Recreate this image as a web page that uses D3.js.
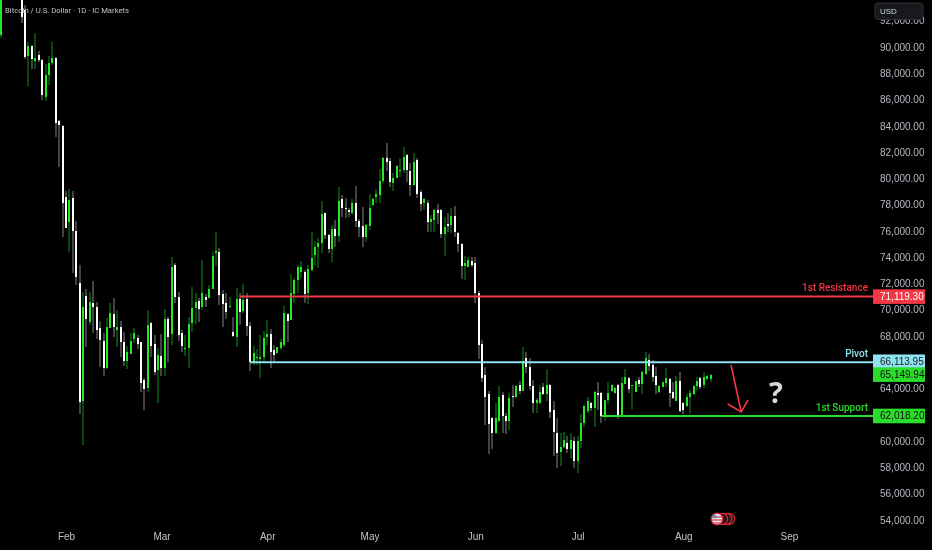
<!DOCTYPE html>
<html><head><meta charset="utf-8">
<style>html,body{margin:0;padding:0;background:#000;overflow:hidden}svg{display:block;filter:blur(0.3px)}text{font-family:"Liberation Sans",sans-serif}</style>
<script src="https://cdn.jsdelivr.net/npm/d3@7/dist/d3.min.js"></script></head><body>
<script>
const firstDay = "2026-01-13";
const opens = [90910,94300,95400,95800,96300,96900,94800,92817,89315,90076,88934,89391,89010,86193,87868,88782,89162,84366,83985,
78580,76677,78504,75992,72033,63050,71044,69064,70511,70207,68607,67617,65562,68607,69673,68455,68684,67541,66095,66628,67770,67846,67541,64649,64040,68988,67389,65410,66476,65562,69293,
68151,73404,70967,68227,67008,67085,68988,70130,70663,70207,70967,70891,71577,74317,74393,71196,70511,70207,68303,67922,70815,69901,70815,68760,66019,66324,66248,66400,67922,68151,
66933,66704,67085,67313,69673,69216,71196,72262,72871,72871,71272,73023,74165,74774,75078,77362,75687,74622,76144,75611,78428,77743,77591,77362,78123,76753,76373,75535,76373,77971,
78580,78733,79799,81550,81321,79646,80027,80560,80636,81778,80560,79494,81397,78961,78123,78123,76677,76829,77591,77591,75763,76525,76449,77134,75840,75002,73327,73251,73708,73556,
71272,67389,65029,63582,61756,60614,61527,63506,61908,61527,63430,63354,64268,63811,66324,65638,64192,62898,62898,64116,63583,64268,62365,60614,59167,59548,59852,59396,60005,58482,
60005,61375,62289,62898,62517,63659,63659,61908,63126,63811,63659,64268,61832,64344,64801,64192,63735,64649,64344,65106,66171,65791,64953,63735,64116,64420,64725,63735,63050,64573,
62898,62669,63355,63583,64192,64801,64268,64725,64725];
const highs = [95500,95600,95900,96400,97000,97300,95000,93197,90381,90152,91066,89695,89087,88706,89315,90381,89239,84442,84062,
79037,79189,79037,76753,73404,71348,71577,71348,72186,70587,69140,68227,69369,70511,70892,69978,69140,68303,67237,68227,68607,68075,67541,64802,69978,69064,68075,67085,68151,70054,69445,
74013,73556,71348,68455,68075,69445,71729,71272,70892,73784,71196,71881,74393,75916,74698,71500,71272,70967,69445,71653,71272,71957,71272,69064,67237,67009,68075,68379,69216,68531,
67313,67161,67770,70283,69749,72719,72414,73404,73708,73023,73404,75916,75231,75459,78276,77362,75763,76449,76829,79342,78733,78504,77743,78428,79418,76905,77819,76525,78809,78504,
79189,80712,81626,82691,81550,80408,81017,81550,82387,81854,81169,81930,81550,79113,78504,78352,77210,77667,78047,77667,77058,77362,77743,77895,75916,75078,74089,74013,74013,74013,
71424,67694,65638,63811,61832,62898,64192,63735,62136,63659,64268,64268,64573,67161,66781,66324,64649,63278,64268,64420,65486,64344,63050,61755,60614,60690,60386,60614,60309,60386,
62060,62746,63355,62974,63811,64497,63735,63126,64497,64344,64116,64344,64877,65486,64877,64268,64573,64877,65334,66781,66628,66171,65638,64268,64497,65562,64801,64497,64953,65258,
62974,63583,63887,64268,64877,64877,65258,65029,65106];
const lows = [90700,94200,95300,95700,96200,96800,91830,89087,87031,88325,88325,88858,85965,85889,87107,88630,83148,80864,75535,
76220,74393,72795,71881,62060,59700,67161,68836,68227,67770,65640,64949,65486,68607,67922,67161,66400,65714,65486,66628,67465,67008,63735,62365,63735,66400,65029,62898,64949,64949,66019,
67313,70511,67617,66781,66476,65562,68303,68912,69064,69978,70207,70891,71577,73327,70359,68684,69293,70130,67922,67161,68836,69749,67999,65334,65791,65791,64801,66019,67313,65562,
66095,66628,66933,67161,67541,69216,70511,71272,72414,70511,70435,72947,73404,73175,74317,75383,74317,73632,74774,75155,77058,76982,77058,77210,76297,75535,74774,75155,76068,77895,
78123,78123,79646,80560,79342,79037,80027,80103,80408,79722,78657,79418,78504,77515,77591,75916,75916,75916,76525,75459,74089,75916,75840,75535,74393,72338,72262,73251,73251,70511,
66247,64497,61223,59015,59396,60538,61451,60614,60538,60842,62593,63278,63583,63811,65182,63887,62136,62136,62822,63506,63050,61755,58863,57949,58101,59472,59091,58711,57949,57568,
59472,61071,62136,62289,61071,62365,61375,61527,62822,63735,63583,61679,61832,64344,63659,62365,63735,64116,63583,65029,65334,64497,63583,63659,64116,64116,62593,63202,63050,62212,
62060,62593,62060,63506,63887,63963,64040,64649,64497];
const closes = [94200,95400,95800,96300,96900,94800,92280,89239,90076,89087,89162,89010,86346,87868,88782,89162,84214,84062,78123,
76220,78352,75992,72490,62974,70207,69293,70587,70207,68455,67694,65562,68684,69749,68684,68684,67541,66095,66781,67617,68227,67389,64420,63963,68836,67237,65258,66552,65562,69293,67922,
73251,70967,68075,67237,67085,68912,70130,70587,70054,71272,70739,71577,74089,74470,71120,70435,69825,70283,67998,70815,69825,70739,68760,66019,66704,66400,66400,67846,68151,66781,
66552,67161,67541,69749,69140,71272,72262,73251,73251,71196,73099,73936,74774,75078,77286,75687,74622,76144,75611,78276,77743,77667,77438,78123,76753,76297,75535,76449,77743,78428,
78809,79799,81550,81245,79722,80027,80940,80636,81626,80636,79494,81245,78809,78047,78428,76677,76905,77591,77362,75763,76297,76373,77134,75916,75002,73327,73556,73784,73404,71272,
67313,64801,63355,61299,60614,61756,63355,61908,61527,63278,63354,64192,63811,66095,65638,64192,62898,63126,63735,63583,64268,62212,60690,59091,59548,60081,59396,60081,58482,60005,
61375,62669,63050,62517,63735,63507,61908,63126,63659,64268,64040,61908,64420,64877,63963,64268,64573,64344,65258,66324,65715,64877,64268,64192,64497,64801,63659,63278,64573,62289,
62365,63355,63659,64192,64573,64116,64877,64953,65029];
const yTicks = [54000,56000,58000,60000,62000,64000,66000,68000,70000,72000,74000,76000,78000,80000,82000,84000,86000,88000,90000,92000];
const monthStarts = ["2026-02-01","2026-03-01","2026-04-01","2026-05-01","2026-06-01","2026-07-01","2026-08-01","2026-09-01"];
const levelNames = ["1st Resistance","Pivot","1st Support"];
const levelValues = [71119.30,66113.95,62018.20];
const levelStarts = ["2026-03-24","2026-03-27","2026-07-08"];
const levelColors = ["#f23645","#8fe3f2","#2bdc2b"];
const lastPrice = 65149.94;
const arrowDates = ["2026-08-15","2026-08-18","2026-08-14","2026-08-18","2026-08-20"];
const arrowPrices = [65790,62213,62822,62213,63126];
const titleText = "Bitcoin / U.S. Dollar · 1D · IC Markets";
const upBody="#26e826", upWick="#118f1a", downBody="#ffffff", downWick="#858585", tickGrey="#b6b9c2";
const labelFont='Roboto,"Liberation Sans",sans-serif';

const W=932,H=550;
const parse=d3.utcParse("%Y-%m-%d");
const x=d3.scaleUtc().domain([parse("2026-02-01"),parse("2026-09-01")]).range([66,789]);
const y=d3.scaleLinear().domain([90000,54000]).range([47,519.9]);
const svg=d3.select("body").append("svg").attr("width",W).attr("height",H);
svg.append("rect").attr("width",W).attr("height",H).attr("fill","#000");

const t0=parse(firstDay);
const data=opens.map((o,i)=>({d:d3.utcDay.offset(t0,i),o,h:highs[i],l:lows[i],c:closes[i]}));
const px=d=>Math.round(x(d.d));

const g=svg.append("g");
const candle=g.selectAll("g").data(data).join("g");
candle.append("rect").attr("x",d=>px(d)-0.5).attr("width",1)
  .attr("y",d=>y(d.h)).attr("height",d=>y(d.l)-y(d.h))
  .attr("fill",d=>d.c>=d.o?upWick:downWick);
candle.append("rect").attr("x",d=>px(d)-1).attr("width",2)
  .attr("y",d=>y(Math.max(d.o,d.c))).attr("height",d=>Math.max(1,Math.abs(y(d.o)-y(d.c))))
  .attr("fill",d=>d.c>=d.o?upBody:downBody);

svg.append("text").attr("x",5).attr("y",13).attr("font-size",7.7).attr("fill","#c0c3cb").style("font-family",labelFont).text(titleText);

const yAxis=d3.axisRight(y).tickValues(yTicks).tickSize(0).tickPadding(0).tickFormat(d3.format(",.2f"));
const ya=svg.append("g").attr("transform","translate(880,0)").call(yAxis);
ya.select(".domain").remove();
ya.selectAll("text").attr("font-size",10).attr("fill",tickGrey).attr("font-family",'"Liberation Sans",sans-serif');

const xAxis=d3.axisBottom(x).tickValues(monthStarts.map(parse)).tickSize(0).tickPadding(0).tickFormat(d3.utcFormat("%b"));
const xa=svg.append("g").attr("transform","translate(0,533)").call(xAxis);
xa.select(".domain").remove();
xa.selectAll("text").attr("font-size",10).attr("fill","#c0c3cb").attr("font-family",'"Liberation Sans",sans-serif');

const lv=svg.append("g").attr("transform","translate(0,1.4)");
levelValues.forEach((v,i)=>{
  lv.append("line").attr("x1",x(parse(levelStarts[i]))).attr("x2",873).attr("y1",y(v)).attr("y2",y(v))
    .attr("stroke",levelColors[i]).attr("stroke-width",2);
  lv.append("text").attr("x",868).attr("y",y(v)-5).attr("text-anchor","end").attr("font-size",10)
    .attr("font-weight",500).style("font-family",labelFont)
    .attr("fill",levelColors[i]).text(levelNames[i]);
});

const tags=[
 {v:levelValues[0],bg:"#f23645",fg:"#ffffff",off:1.6},
 {v:levelValues[1],bg:"#8fe3f2",fg:"#222222",off:1},
 {v:lastPrice,bg:"#2bdc2b",fg:"#111111",off:1.2},
 {v:levelValues[2],bg:"#2bdc2b",fg:"#111111",off:1.4}];
tags.forEach(t=>{
  const cy=y(t.v)+t.off;
  svg.append("rect").attr("x",873).attr("width",52).attr("y",cy-7.3).attr("height",14.6).attr("fill",t.bg);
  svg.append("text").attr("x",880).attr("y",cy+3.5).attr("font-size",10).attr("fill",t.fg).text(d3.format(",.2f")(t.v));
});

const ax=arrowDates.map((d,i)=>[x(parse(d)),y(arrowPrices[i])]);
const arrowLine=d3.line();
svg.append("path").attr("d",arrowLine(ax.slice(0,2))).attr("fill","none").attr("stroke","#f23645").attr("stroke-width",1.6);
svg.append("path").attr("d",arrowLine(ax.slice(2))).attr("fill","none").attr("stroke","#f23645").attr("stroke-width",1.6);

svg.append("text").attr("x",776).attr("y",403).attr("text-anchor","middle").attr("font-size",29).attr("font-weight","bold")
  .attr("fill","#d8d8dc").style("font-family",'"Open Sans",sans-serif').text("?");

svg.append("rect").attr("x",875).attr("y",3).attr("width",48).attr("height",16.5).attr("rx",3)
  .attr("fill","#17191c").attr("stroke","#2e3136");
svg.append("text").attr("x",880).attr("y",14).attr("font-size",8).attr("fill","#d1d4dc").text("USD");

const fl=svg.append("g");
[729,726,722].forEach(cx=>fl.append("circle").attr("cx",cx).attr("cy",519).attr("r",5.6).attr("fill","#2a1216").attr("stroke","#d8283a").attr("stroke-width",1.2));
fl.append("circle").attr("cx",717).attr("cy",519).attr("r",5.8).attr("fill","#e8e8e8").attr("stroke","#d8283a").attr("stroke-width",1.2);
[517,520,523].forEach(yy=>fl.append("rect").attr("x",712).attr("y",yy-0.6).attr("width",10).attr("height",1.2).attr("fill","#e0394a"));
fl.append("rect").attr("x",712.5).attr("y",515).attr("width",4).attr("height",3.2).attr("fill","#5b8fc9");
</script></body></html>
